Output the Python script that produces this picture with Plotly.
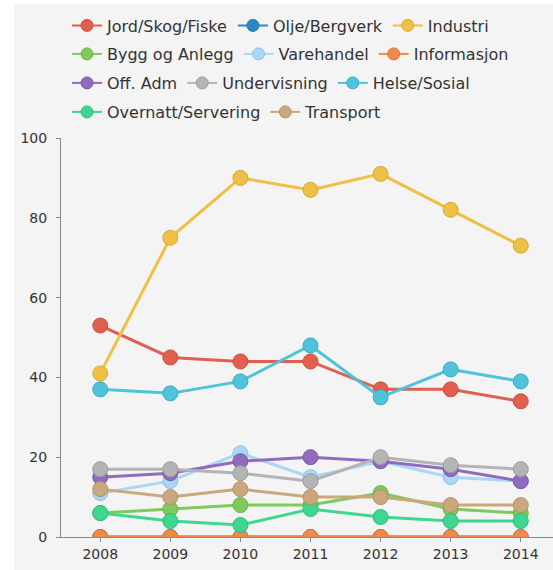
import plotly.graph_objects as go

years = [2008, 2009, 2010, 2011, 2012, 2013, 2014]

series_names = ["Jord/Skog/Fiske", "Olje/Bergverk", "Industri",
                "Bygg og Anlegg", "Varehandel", "Informasjon",
                "Off. Adm", "Undervisning", "Helse/Sosial",
                "Overnatt/Servering", "Transport"]

jord = [53, 45, 44, 44, 37, 37, 34]
olje = [0, 0, 0, 0, 0, 0, 0]
industri = [41, 75, 90, 87, 91, 82, 73]
bygg = [6, 7, 8, 8, 11, 7, 6]
varehandel = [11, 14, 21, 15, 19, 15, 14]
informasjon = [0, 0, 0, 0, 0, 0, 0]
off_adm = [15, 16, 19, 20, 19, 17, 14]
undervisning = [17, 17, 16, 14, 20, 18, 17]
helse = [37, 36, 39, 48, 35, 42, 39]
overnatt = [6, 4, 3, 7, 5, 4, 4]
transport = [12, 10, 12, 10, 10, 8, 8]

y_ticks = [0, 20, 40, 60, 80, 100]

values = [jord, olje, industri, bygg, varehandel, informasjon,
          off_adm, undervisning, helse, overnatt, transport]

colors = ["#e0604f", "#2f86c4", "#efc046", "#80c95c", "#a9d7f5", "#ef8a4c",
          "#8f6cc0", "#b4b4b4", "#4fc2dc", "#3fd691", "#c9a87c"]
edge = ["#c9503f", "#2574ad", "#d9aa30", "#6cb34a", "#8cc3ea", "#d97638",
        "#7a58ab", "#9c9c9c", "#3aaac4", "#2fbd7a", "#b39266"]
legend_ids = ["legend", "legend", "legend",
              "legend2", "legend2", "legend2",
              "legend3", "legend3", "legend3",
              "legend4", "legend4"]

fig = go.Figure()
for name, vals, c, e in zip(series_names, values, colors, edge):
    fig.add_trace(go.Scatter(
        x=years, y=vals, name=name, mode="lines+markers",
        line=dict(color=c, width=3),
        marker=dict(color=c, size=15, line=dict(color=e, width=1)),
        showlegend=False,
    ))

# legend-only entries (thinner line, smaller marker, like the reference)
for name, c, e, lg in zip(series_names, colors, edge, legend_ids):
    fig.add_trace(go.Scatter(
        x=[None], y=[None], name=name, mode="lines+markers",
        line=dict(color=c, width=2),
        marker=dict(color=c, size=12, line=dict(color=e, width=1)),
        legend=lg, showlegend=True, hoverinfo="skip",
    ))

W, H = 553, 570
L, R, T, B = 61, 0, 138, 33
pw = W - L - R
ph = H - T - B


def px2paper_y(py):
    return (H - B - py) / ph


def px2paper_x(px):
    return (px - L) / pw


leg_common = dict(orientation="h", xanchor="left", yanchor="middle",
                  x=px2paper_x(67), bgcolor="rgba(0,0,0,0)",
                  font=dict(family="DejaVu Sans", size=16, color="#333333"),
                  itemsizing="trace", borderwidth=0)

fig.update_layout(
    width=W, height=H,
    margin=dict(l=L, r=R, t=T, b=B, pad=0),
    paper_bgcolor="#f4f4f4",
    plot_bgcolor="#f4f4f4",
    font=dict(family="DejaVu Sans", size=14, color="#333333"),
    showlegend=True,
    legend=dict(leg_common, y=px2paper_y(25.5)),
    legend2=dict(leg_common, y=px2paper_y(54)),
    legend3=dict(leg_common, y=px2paper_y(83)),
    legend4=dict(leg_common, y=px2paper_y(112)),
    xaxis=dict(
        range=[2007.44, 2014.46], tickvals=years, ticktext=[str(y) for y in years],
        showgrid=False, zeroline=False, showline=True, linecolor="#8a8a8a", linewidth=1,
        ticks="outside", ticklen=4, tickcolor="#8a8a8a",
        tickfont=dict(family="DejaVu Sans", size=14, color="#333333"),
    ),
    yaxis=dict(
        range=[0, 100], tickvals=y_ticks,
        showgrid=False, zeroline=False, showline=True, linecolor="#8a8a8a", linewidth=1,
        ticks="outside", ticklen=4, tickcolor="#8a8a8a", ticklabelstandoff=6,
        tickfont=dict(family="DejaVu Sans", size=14, color="#333333"),
    ),
    shapes=[
        dict(type="rect", xref="paper", yref="paper", layer="below",
             x0=px2paper_x(0), x1=px2paper_x(14), y0=px2paper_y(H), y1=px2paper_y(0),
             fillcolor="#ffffff", line=dict(width=0)),
        dict(type="rect", xref="paper", yref="paper", layer="below",
             x0=px2paper_x(0), x1=px2paper_x(W), y0=px2paper_y(4), y1=px2paper_y(0),
             fillcolor="#ffffff", line=dict(width=0)),
    ],
)

fig.write_html("out.html", config={"displayModeBar": False},
               post_script="document.body.style.margin='0';document.body.style.overflow='hidden';")
